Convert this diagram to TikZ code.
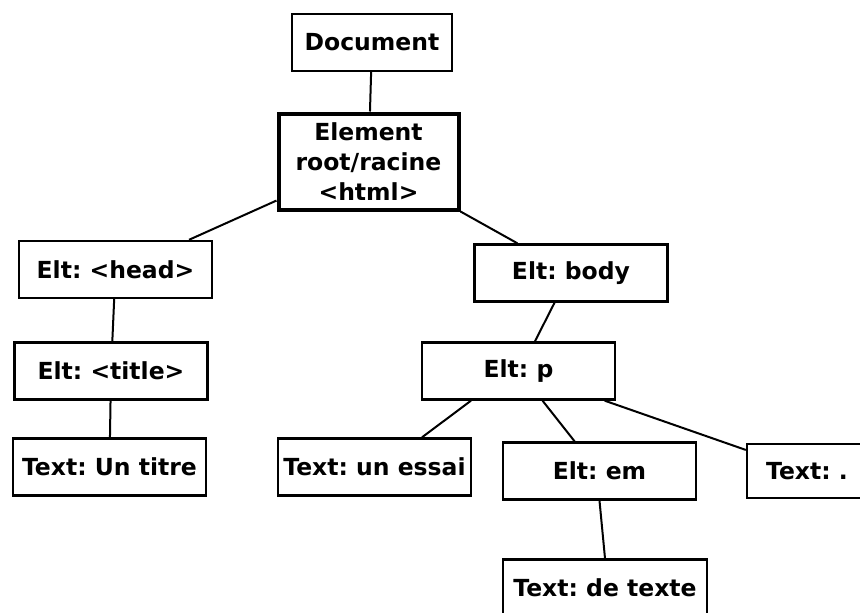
\documentclass[tikz,border=0pt]{standalone}
\usepackage{fontspec}
\setmainfont{DejaVu Sans}
\frenchspacing

\begin{document}
\begin{tikzpicture}[x=1pt, y=-1pt,
  elt/.style={draw, line width=2.4pt, inner sep=2pt,
    minimum width=193pt, minimum height=57pt,
    font=\fontsize{23.5}{30}\selectfont\bfseries},
  link/.style={line width=2pt}]
% the frame
\useasboundingbox (0,0) rectangle (860,613);
% the document and its root
\node[elt, minimum width=160pt] (doc) at (372,42.5) {Document};
\node[elt, line width=4pt, minimum width=180pt, minimum height=96pt,
  align=center] (root) at (368.5,161.5) {Element\\root/racine\\<html>};
% head branch
\node[elt] (head) at (115.5,269.5) {Elt: <head>};
\node[elt] (title) at (111,371) {Elt: <title>};
\node[elt] (titre) at (109.5,467) {Text: Un titre};
% body branch
\node[elt] (body) at (571,273) {Elt: body};
\node[elt] (p) at (518.5,371) {Elt: p};
\node[elt] (essai) at (374.5,467) {Text: un essai};
\node[elt] (em) at (599.5,471) {Elt: em};
\node[elt, minimum width=120pt, minimum height=54pt] (dot) at (807,471) {Text: .};
\node[elt, minimum width=204pt] (texte) at (605,588) {Text: de texte};
% links
\draw[link] (doc) -- (root);
\draw[link] (root.203.9) -- (head.22.1);
\draw[link] (root.south east) -- (body.151.8);
\draw[link] (head) -- (title);
\draw[link] (title) -- (titre);
\draw[link] (body.241.9) -- (p.61.2);
\draw[link] (p.212.8) -- (essai.32.8);
\draw[link] (p.309.2) -- (em.130.2);
\draw[link] (p.341.5) -- (dot.161.8);
\draw[link] (em.south) -- (texte.north);
\end{tikzpicture}
\end{document}
